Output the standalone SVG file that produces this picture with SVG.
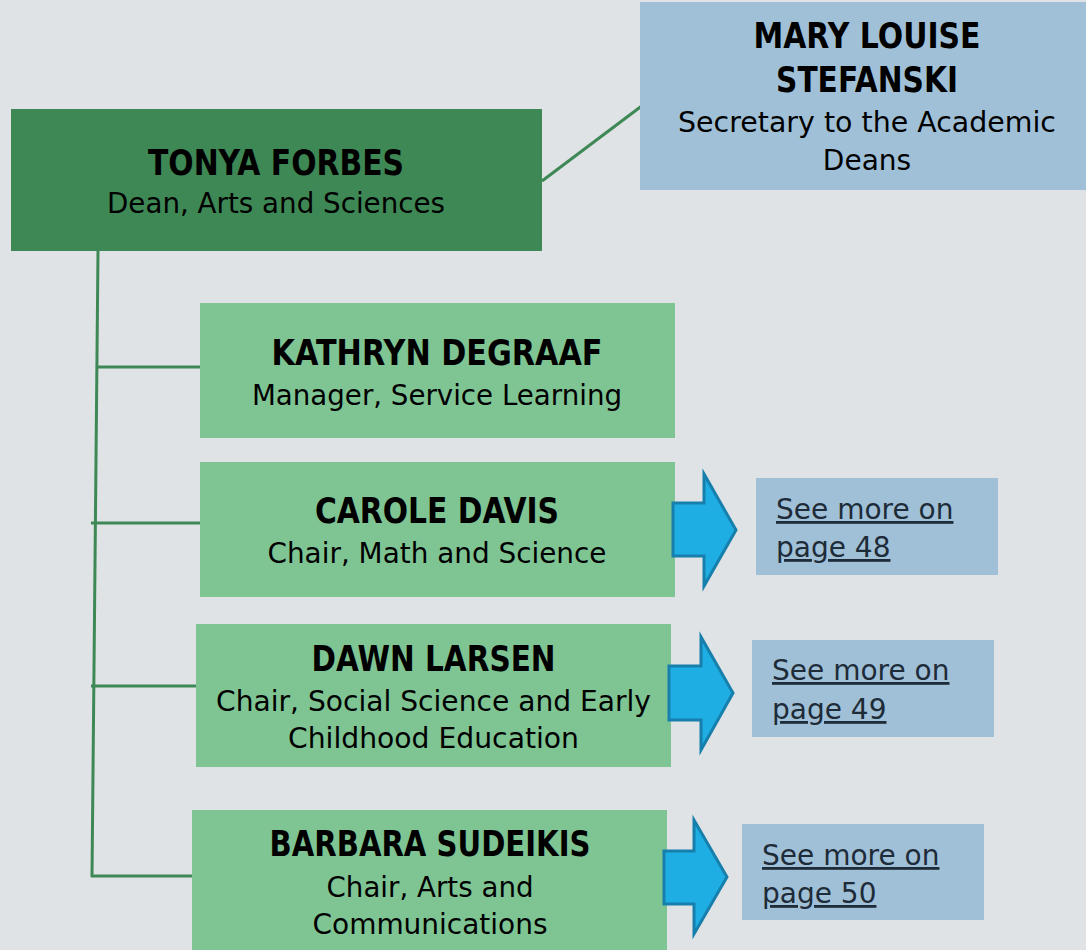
<svg xmlns="http://www.w3.org/2000/svg" width="1086" height="950" viewBox="0 0 1086 950">
<style>
.bg{fill:#dfe3e6}
.dark{fill:#3e8855}
.light{fill:#7fc594}
.blue{fill:#a0c0d7}
.conn{stroke:#3e8855;stroke-width:3;fill:none;stroke-linecap:butt}
.arrow{fill:#1eaee4;stroke:#167fab;stroke-width:3;stroke-linejoin:miter}
.name{font-family:"DejaVu Sans","Liberation Sans",sans-serif;font-weight:bold;font-size:35px;fill:#000;text-anchor:middle}
.role{font-family:"DejaVu Sans","Liberation Sans",sans-serif;font-size:28px;fill:#000;text-anchor:middle}
.link{font-family:"DejaVu Sans","Liberation Sans",sans-serif;font-size:28px;fill:#1e2b38;text-decoration:underline}
</style>
<rect class="bg" x="0" y="0" width="1086" height="950"/>
<g id="connectors">
<line class="conn" x1="542" y1="181" x2="643" y2="105"/>
<line class="conn" x1="98" y1="251" x2="92" y2="877"/>
<line class="conn" x1="96" y1="367" x2="200" y2="367"/>
<line class="conn" x1="91" y1="523" x2="201" y2="523"/>
<line class="conn" x1="91" y1="686" x2="197" y2="686"/>
<line class="conn" x1="91" y1="876" x2="194" y2="876"/>
</g>
<g id="tonya">
<rect class="dark" x="11" y="109" width="531" height="142"/>
<text class="name" x="276" y="175" textLength="256" lengthAdjust="spacingAndGlyphs">TONYA FORBES</text>
<text class="role" x="276" y="213" textLength="338" lengthAdjust="spacingAndGlyphs">Dean, Arts and Sciences</text>
</g>
<g id="mary">
<rect class="blue" x="640" y="2" width="446" height="188"/>
<text class="name" x="867" y="48" textLength="227" lengthAdjust="spacingAndGlyphs">MARY LOUISE</text>
<text class="name" x="867" y="92" textLength="182" lengthAdjust="spacingAndGlyphs">STEFANSKI</text>
<text class="role" x="867" y="132" textLength="378" lengthAdjust="spacingAndGlyphs">Secretary to the Academic</text>
<text class="role" x="867" y="170">Deans</text>
</g>
<g id="kathryn">
<rect class="light" x="200" y="303" width="475" height="135"/>
<text class="name" x="437" y="365" textLength="331" lengthAdjust="spacingAndGlyphs">KATHRYN DEGRAAF</text>
<text class="role" x="437" y="405" textLength="370" lengthAdjust="spacingAndGlyphs">Manager, Service Learning</text>
</g>
<g id="carole">
<rect class="light" x="200" y="462" width="475" height="135"/>
<text class="name" x="437" y="523" textLength="244" lengthAdjust="spacingAndGlyphs">CAROLE DAVIS</text>
<text class="role" x="437" y="563" textLength="339" lengthAdjust="spacingAndGlyphs">Chair, Math and Science</text>
</g>
<g id="dawn">
<rect class="light" x="196" y="624" width="475" height="143"/>
<text class="name" x="433.5" y="671" textLength="244" lengthAdjust="spacingAndGlyphs">DAWN LARSEN</text>
<text class="role" x="433.5" y="711" textLength="435" lengthAdjust="spacingAndGlyphs">Chair, Social Science and Early</text>
<text class="role" x="433.5" y="748" textLength="291" lengthAdjust="spacingAndGlyphs">Childhood Education</text>
</g>
<g id="barbara">
<rect class="light" x="192" y="810" width="475" height="145"/>
<text class="name" x="430" y="856" textLength="321" lengthAdjust="spacingAndGlyphs">BARBARA SUDEIKIS</text>
<text class="role" x="430" y="897" textLength="207" lengthAdjust="spacingAndGlyphs">Chair, Arts and</text>
<text class="role" x="430" y="934" textLength="235" lengthAdjust="spacingAndGlyphs">Communications</text>
</g>
<g id="arrow1">
<polygon class="arrow" points="673,503 704,503 704,474 736,530 704,586 704,556 673,556"/>
</g>
<g id="link48">
<rect class="blue" x="756" y="478" width="242" height="97"/>
<text class="link" x="776" y="519">See more on</text>
<text class="link" x="776" y="557">page 48</text>
</g>
<g id="arrow2">
<polygon class="arrow" points="669,666 701,666 701,637 733,693 701,750 701,720 669,720"/>
</g>
<g id="link49">
<rect class="blue" x="752" y="640" width="242" height="97"/>
<text class="link" x="772" y="680">See more on</text>
<text class="link" x="772" y="719">page 49</text>
</g>
<g id="arrow3">
<polygon class="arrow" points="664,851 694,851 694,820 727,877 694,934 694,904 664,904"/>
</g>
<g id="link50">
<rect class="blue" x="742" y="824" width="242" height="96"/>
<text class="link" x="762" y="865">See more on</text>
<text class="link" x="762" y="903">page 50</text>
</g>
</svg>
